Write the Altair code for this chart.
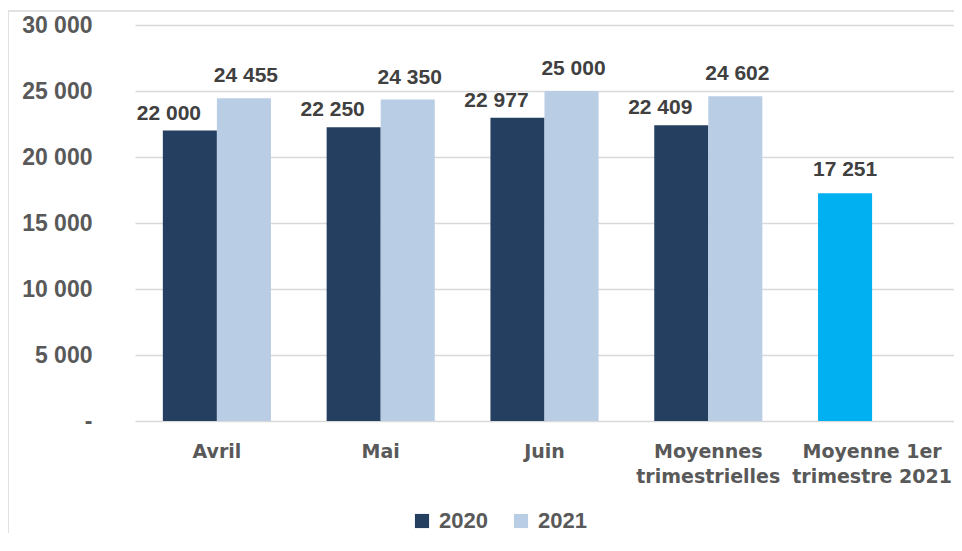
import altair as alt
import pandas as pd

categories = ["Avril", "Mai", "Juin", "Moyennes\ntrimestrielles", "Moyenne 1er\ntrimestre 2021"]
values_2020 = [22000, 22250, 22977, 22409]
values_2021 = [24455, 24350, 25000, 24602]
value_t1_2021 = 17251
y_ticks = [0, 5000, 10000, 15000, 20000, 25000, 30000]

rows = []
for c, v in zip(categories[:4], values_2020):
    rows.append({"cat": c, "slot": "2020", "serie": "2020", "valeur": v})
for c, v in zip(categories[:4], values_2021):
    rows.append({"cat": c, "slot": "2021", "serie": "2021", "valeur": v})
rows.append({"cat": categories[4], "slot": "2020", "serie": "T1 2021", "valeur": value_t1_2021})
df = pd.DataFrame(rows)

NUM_FONT = "Liberation Sans"
TXT_FONT = "DejaVu Sans"

x_enc = alt.X("cat:N", sort=categories,
              scale=alt.Scale(paddingInner=0.34, paddingOuter=0.17),
              axis=alt.Axis(title=None, labelExpr="split(datum.label, '\\n')",
                            labelFont=TXT_FONT, labelFontSize=19, labelFontWeight="bold",
                            labelColor="#595959", labelPadding=21, labelLineHeight=25,
                            labelAngle=0, domain=False, ticks=False, labelBaseline="top"))
xo_enc = alt.XOffset("slot:N", sort=["2020", "2021"], scale=alt.Scale(domain=["2020", "2021"]))
y_enc = alt.Y("valeur:Q", scale=alt.Scale(domain=[0, 30000], nice=False),
              axis=alt.Axis(title=None, values=y_ticks,
                            labelExpr="datum.value == 0 ? '-\u00a0\u00a0' : replace(format(datum.value, ','), ',', ' ')",
                            labelFont=NUM_FONT, labelFontSize=23, labelFontWeight="bold",
                            labelColor="#595959", labelPadding=43, domain=False, ticks=False,
                            grid=True, gridColor="#d9d9d9", gridWidth=1.5))

base = alt.Chart(df)

bars = base.mark_bar().encode(
    x=x_enc, xOffset=xo_enc, y=y_enc,
    color=alt.Color("serie:N",
                    scale=alt.Scale(domain=["2020", "2021", "T1 2021"],
                                    range=["#243F60", "#B9CDE5", "#00B0F0"]),
                    legend=alt.Legend(values=["2020", "2021"], title=None))
)

def labels(serie, dx, dy):
    return base.transform_filter(alt.datum.serie == serie).transform_calculate(
        lab="replace(format(datum.valeur, ','), ',', ' ')"
    ).mark_text(font=NUM_FONT, fontSize=21, fontWeight="bold", color="#404040",
                baseline="alphabetic", dx=dx, dy=dy).encode(
        x=alt.X("cat:N", sort=categories), xOffset=alt.XOffset("slot:N"),
        y="valeur:Q", text="lab:N")

lab20 = labels("2020", -21, -11)
lab21 = labels("2021", 2, -16)
labt1 = labels("T1 2021", 0, -17)

bdf = pd.DataFrame({"a": [0]})
border_left = alt.Chart(bdf).mark_rule(color="#d9d9d9", strokeWidth=1.5).encode(
    x=alt.value(-127), y=alt.value(-14), y2=alt.value(520))
border_top = alt.Chart(bdf).mark_rule(color="#d9d9d9", strokeWidth=1.5).encode(
    x=alt.value(-127), x2=alt.value(830), y=alt.value(-14))

chart = alt.layer(border_left, border_top, bars, lab20, lab21, labt1).resolve_scale(
    x="shared"
).properties(
    width=819, height=396,
    autosize=alt.AutoSizeParams(type="none"),
    padding={"left": 127, "top": 17, "right": 0, "bottom": 112},
    background="white",
).configure_view(stroke=None).configure_legend(
    orient="none", legendX=276, legendY=485, direction="horizontal",
    symbolType="square", symbolSize=200, symbolStrokeWidth=0,
    labelFont=NUM_FONT, labelFontSize=22, labelFontWeight="bold", labelColor="#595959",
    columnPadding=22, labelOffset=6, padding=0
)

chart.save("out.html", embed_options={"renderer": "svg", "actions": False})
